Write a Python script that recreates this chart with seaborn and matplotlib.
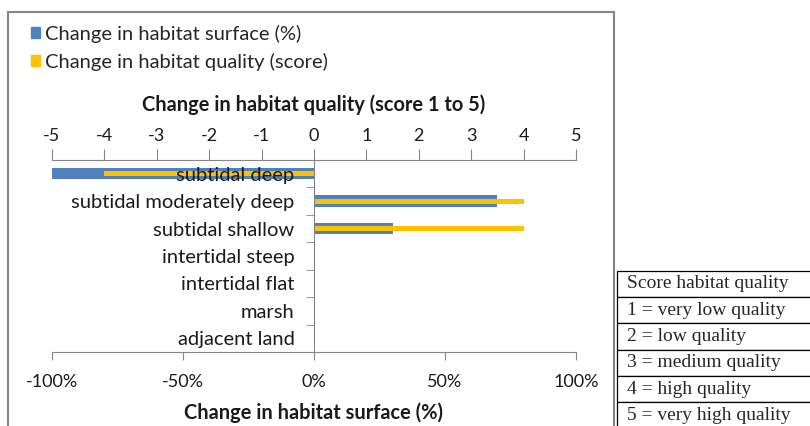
import matplotlib
matplotlib.use('Agg')
import numpy as np
import matplotlib.pyplot as plt
import seaborn as sns
from matplotlib.patches import Rectangle, Patch

# data
habitats = ['subtidal deep', 'subtidal moderately deep', 'subtidal shallow',
            'intertidal steep', 'intertidal flat', 'marsh', 'adjacent land']
surface_change = [-100, 70, 30, 0, 0, 0, 0]      # %
quality_change = [-4, 4, 4, 0, 0, 0, 0]          # score
surface_ticks = [-100, -50, 0, 50, 100]
quality_ticks = [-5, -4, -3, -2, -1, 0, 1, 2, 3, 4, 5]
score_rows = ['Score habitat quality', '1 = very low quality', '2 = low quality',
              '3 = medium quality', '4 = high quality', '5 = very high quality']

blue = '#4F81BD'
yellow = '#FFC000'
grey = '#868686'
ink = '#1a1a1a'

sns.set_style('white')
plt.rcParams['font.family'] = ['Lato', 'DejaVu Sans']
plt.rcParams['font.size'] = 13

W, H = 810, 426
fig = plt.figure(figsize=(W / 100, H / 100), dpi=100)

# main axes: surface change (bottom axis)
ax = fig.add_axes([52 / W, 1 - 352 / H, 524 / W, 192 / H])
sns.barplot(x=surface_change, y=habitats, orient='h', color=blue, saturation=1,
            width=0.42, linewidth=0, ax=ax)
ax.set_xlim(-100, 100)
ax.set_xticks(surface_ticks)
ax.set_xticklabels([f'{t}%' for t in surface_ticks], color=ink)
ax.set_xlabel('Change in habitat surface (%)', fontweight='bold', color=ink,
              fontsize=14.4, labelpad=9)
ax.set_ylabel('')
ax.tick_params(axis='x', bottom=True, length=6, direction='out', color=grey, pad=9.5)
ax.tick_params(axis='y', left=False, labelleft=False)
for s in ['top', 'left', 'right']:
    ax.spines[s].set_visible(False)
ax.spines['bottom'].set_color(grey)

# twin axes: quality score (top axis)
ax2 = ax.twiny()
sns.barplot(x=quality_change, y=habitats, orient='h', color=yellow, saturation=1,
            width=0.18, linewidth=0, ax=ax2)
ax2.set_xlim(-5, 5)
ax2.set_xticks(quality_ticks)
ax2.set_xticklabels([str(t) for t in quality_ticks], color=ink)
ax2.set_xlabel('Change in habitat quality (score 1 to 5)', fontweight='bold', color=ink,
               fontsize=14.4, labelpad=12.5)
ax2.set_ylabel('')
ax2.tick_params(axis='x', top=True, length=8, direction='out', color=grey, pad=3.5)
ax2.set_axisbelow(False)
ax2.yaxis.set_visible(True)
for s in ['bottom', 'right']:
    ax2.spines[s].set_visible(False)
ax2.spines['top'].set_color(grey)
ax2.spines['left'].set_visible(True)
ax2.spines['left'].set_color(grey)
ax2.spines['left'].set_position(('data', 0))
ax2.set_yticks(range(len(habitats)))
ax2.set_yticklabels(habitats, color=ink, fontsize=14.5)
ax2.set_yticks(np.arange(-0.5, len(habitats), 1), minor=True)
ax2.tick_params(axis='y', which='major', left=True, labelleft=True, length=0, pad=14)
ax2.tick_params(axis='y', which='minor', left=True, length=6, direction='out', color=grey)
ax2.set_ylim(len(habitats) - 0.5, -0.5)

# legend
handles = [Patch(color=blue), Patch(color=yellow)]
fig.legend(handles, ['Change in habitat surface (%)', 'Change in habitat quality (score)'],
           loc='upper left', bbox_to_anchor=(19 / W, 1 - 12.5 / H), frameon=False,
           handlelength=0.45, handleheight=0.45, handletextpad=0.25,
           labelspacing=0.5, fontsize=14.5, borderaxespad=0.2)

# chart frame
fig.add_artist(Rectangle((8 / W, -0.1), (614 - 8) / W, 1 - 12 / H + 0.1,
                         transform=fig.transFigure, fill=False, edgecolor=grey, lw=1.5))

# score table
tax = fig.add_axes([617 / W, 1 - 428.5 / H, 195 / W, 157.8 / H])
tax.axis('off')
tbl = tax.table(cellText=[[r] for r in score_rows], cellLoc='left', bbox=[0, 0, 1, 1])
tbl.auto_set_font_size(False)
for cell in tbl.get_celld().values():
    cell.set_edgecolor('black')
    cell.set_linewidth(0.9)
    cell.PAD = 0.05
    cell.get_text().set_fontfamily('Liberation Serif')
    cell.get_text().set_fontsize(14)

fig.savefig('out.png', dpi=100)
